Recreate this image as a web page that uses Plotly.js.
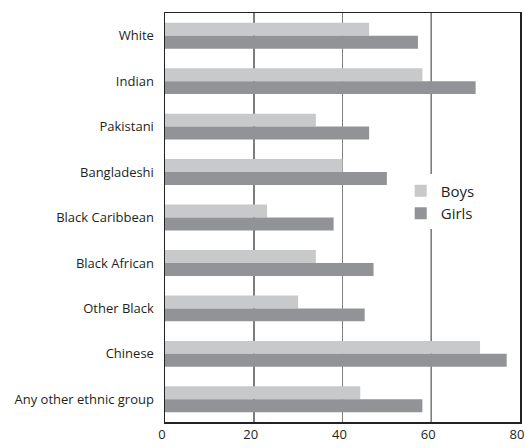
<!DOCTYPE html>
<html>
<head>
<meta charset="utf-8">
<script src="https://cdn.plot.ly/plotly-3.0.1.min.js"></script>
<style>html,body{margin:0;padding:0;background:#fff;}#chart{width:526px;height:448px;}</style>
</head>
<body>
<div id="chart"></div>
<script>
const categories = ["White","Indian","Pakistani","Bangladeshi","Black Caribbean","Black African","Other Black","Chinese","Any other ethnic group"];
const boys  = [46, 58, 34, 40, 23, 34, 30, 71, 44];
const girls = [57, 70, 46, 50, 38, 47, 45, 77, 58];
const xTicks = [0, 20, 40, 60, 80];

const traces = [
  {type:'bar', orientation:'h', name:'Boys', y:categories, x:boys, marker:{color:'#c8c9cb'}},
  {type:'bar', orientation:'h', name:'Girls', y:categories, x:girls, marker:{color:'#929396'}}
];

const layout = {
  width:526, height:448,
  margin:{l:165, r:6, t:13, b:26},
  paper_bgcolor:'#fff', plot_bgcolor:'#fff',
  font:{family:'"Open Sans", sans-serif', size:13, color:'#231f20'},
  barmode:'group', bargap:0.43, bargroupgap:0,
  xaxis:{range:[0,80], tickvals:xTicks, showgrid:true, gridcolor:'#7d7d7d', gridwidth:1.5,
         showline:true, mirror:true, linecolor:'#222', linewidth:1.5, zeroline:false,
         ticks:'', tickfont:{size:13}, ticklabelshift:-3, ticklabeloverflow:'allow', automargin:false, fixedrange:true},
  yaxis:{autorange:'reversed', showline:true, mirror:true, linecolor:'#222', linewidth:1.5,
         ticks:'', ticklabelstandoff:7, tickfont:{size:13}, automargin:false, fixedrange:true},
  shapes:[{type:'line', xref:'x', yref:'paper', x0:60, x1:60, y0:0, y1:1, line:{color:'#222', width:1.2}, layer:'below'}],
  legend:{x:0.664, y:0.538, xanchor:'left', yanchor:'middle', bgcolor:'#fff', font:{size:15},
          itemwidth:30, tracegroupgap:0, traceorder:'normal'},
  showlegend:true
};

Plotly.newPlot('chart', traces, layout, {displayModeBar:false, staticPlot:true});
</script>
</body>
</html>
